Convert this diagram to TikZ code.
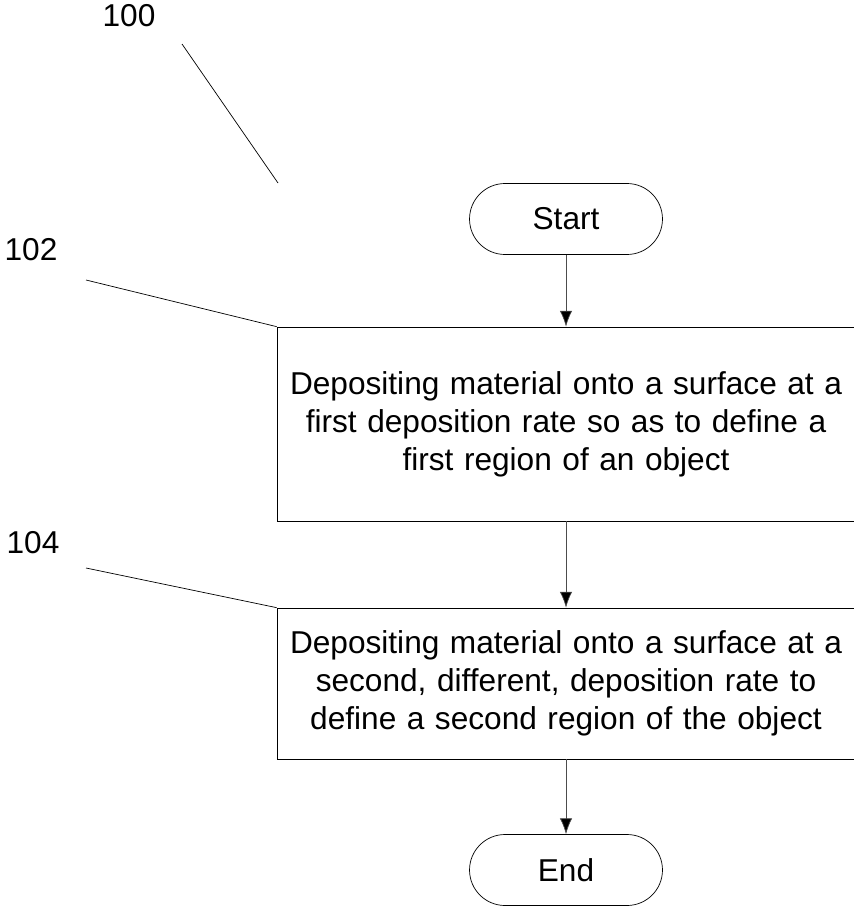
\documentclass[tikz,border=0pt]{standalone}
\usepackage{fontspec}
\setmainfont{Liberation Sans}
\usepackage{tikz}
\usetikzlibrary{arrows.meta}

\begin{document}
\begin{tikzpicture}[x=0.02cm,y=-0.02cm,
        txt/.style={font=\fontsize{18}{21.6}\selectfont},
        terminal/.style={txt,shape=rectangle,draw=black,thin,rounded corners=0.71cm,minimum width=3.86cm,minimum height=1.42cm},
        stepbox/.style={txt,shape=rectangle,draw=black,thin,inner xsep=0.08cm,text width=11.4cm,align=center},
        flow/.style={-{Latex[length=9pt,width=7pt]},draw=black!70,thin},
        leader/.style={-,draw=black,thin}]
        	
        	\useasboundingbox (0,0) rectangle (853,909);
        	
        	\node[terminal] (start) at (566, 219) {Start};
        	\node[stepbox,minimum height=3.88cm] (s102) at (566, 424) {Depositing material onto a surface at a\\ first deposition rate so as to define a\\ first region of an object};
        	\node[stepbox,minimum height=3.02cm] (s104) at (566, 683.5) {Depositing material onto a surface at a\\ second, different, deposition rate to\\ define a second region of the object};
        	\node[terminal] (end) at (566, 870) {End};
        	
        	\node[txt] (l100) at (129, 16) {100};
        	\node[txt] (l102) at (31, 250) {102};
        	\node[txt] (l104) at (33, 543) {104};
        	\coordinate (p100a) at (182, 44);
        	\coordinate (p100b) at (278, 183);
        	\coordinate (p102) at (86, 280);
        	\coordinate (p104) at (86, 568);
        	
        	\path[flow] (start) edge (s102);
        	\path[flow] (s102) edge (s104);
        	\path[flow] (s104) edge (end);
        	
        	\path[leader] (p100a) edge (p100b);
        	\path[leader] (p102) edge (s102.north west);
        	\path[leader] (p104) edge (s104.north west);
        	
\end{tikzpicture}
\end{document}
